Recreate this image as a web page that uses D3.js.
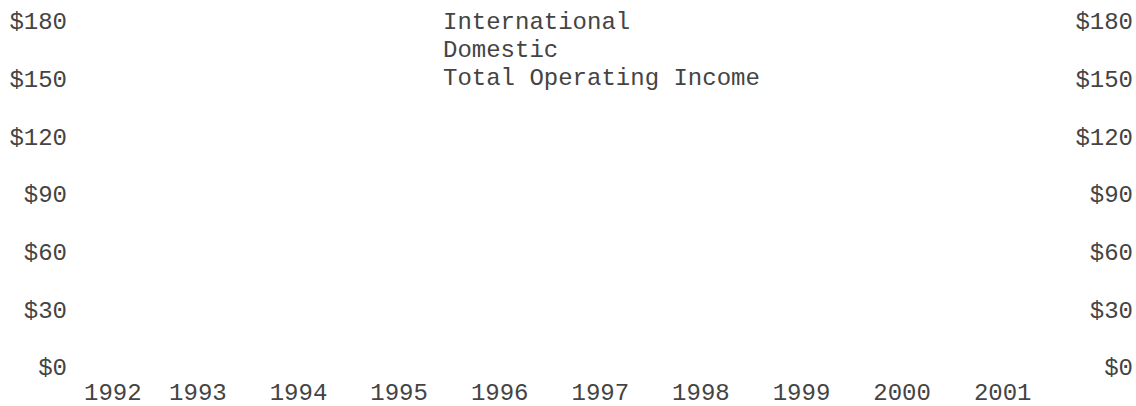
<!DOCTYPE html>
<html>
<head>
<meta charset="utf-8">
<script src="https://cdn.jsdelivr.net/npm/d3@7"></script>
<style>
    body { margin: 0; background: #fff; }
    svg text { font-family: "Courier New", "Liberation Mono", monospace; font-size: 24px; fill: #444; }
</style>
</head>
<body>
<div id="chart"></div>
<script>
"use strict"

// chart data
let years = [1992, 1993, 1994, 1995, 1996, 1997, 1998, 1999, 2000, 2001];
let yTicks = [0, 30, 60, 90, 120, 150, 180];
let seriesNames = ["International", "Domestic", "Total Operating Income"];

let width = 1136,
    height = 406;

let svg = d3.select("#chart").append("svg")
    .attr("width", width)
    .attr("height", height);

let yScale = d3.scaleLinear()
    .domain([0, 180])
    .range([367.5, 21.7]);

let xScale = d3.scaleBand()
    .domain(years)
    .range([47, 1053]);

let leftAxisX = 67,
    rightAxisX = 1133;

// y axis labels, both sides
for (let side of [leftAxisX, rightAxisX]) {
    svg.append("g")
        .selectAll("text")
        .data(yTicks)
        .join("text")
        .attr("x", side)
        .attr("y", d => yScale(d))
        .attr("dy", "0.32em")
        .style("text-anchor", "end")
        .text(d => "$" + d);
}

// x axis labels, first one pushed clear of the left axis
let xLabels = svg.append("g")
    .selectAll("text")
    .data(years)
    .join("text")
    .attr("y", 400)
    .style("text-anchor", "middle")
    .text(d => d);

xLabels.attr("x", function(d) {
    let half = this.getComputedTextLength() / 2;
    let cx = xScale(d) + xScale.bandwidth() / 2;
    return Math.max(cx, leftAxisX + 17 + half);
});

// legend
svg.append("g")
    .selectAll("text")
    .data(seriesNames)
    .join("text")
    .attr("x", 443)
    .attr("y", (d, i) => 29 + i * 28)
    .text(d => d);
</script>
</body>
</html>
